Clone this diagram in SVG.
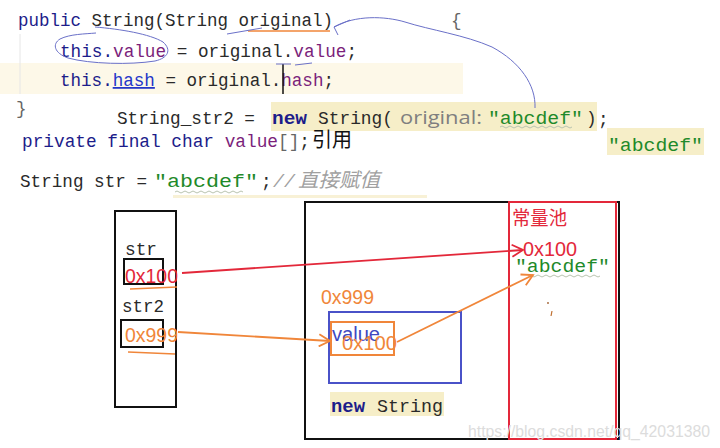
<svg xmlns="http://www.w3.org/2000/svg" width="720" height="448" viewBox="0 0 720 448">
<defs>
<style>
.code{font-family:"Liberation Mono","DejaVu Sans Mono",monospace;font-size:17.7px;fill:#2a2a2a}
.kw{fill:#1c1c8a}
.fld{fill:#7b1f7b}
.hash{fill:#2436c8;text-decoration:underline}
.str{fill:#1f8a2a}
.grey{fill:#666}
.hint{font-family:"Open Sans","Noto Sans",sans-serif;font-size:18px;fill:#7f7f7f}
.cmt{fill:#a0a0a0;font-style:italic}
.cjk{font-family:"Noto Sans CJK SC","Noto Sans",sans-serif}
.sans{font-family:"Liberation Sans","Noto Sans","Noto Sans CJK SC",sans-serif;font-size:19.5px}
.red{fill:#e3283a}
.org{fill:#f0863a}
.blu{fill:#4048c0}
.hl{fill:#f6eec8}
.box{fill:none;stroke:#111;stroke-width:2}
.wavy{fill:none;stroke:#b9c4b0;stroke-width:1}
.pen{fill:none;stroke:#6a70c8;stroke-width:1}
</style>
<marker id="hR" viewBox="0 0 14 14" refX="12" refY="7" markerWidth="14" markerHeight="14" markerUnits="userSpaceOnUse" orient="auto">
<path d="M1,1 L12,7 L1,13" fill="none" stroke="#e3283a" stroke-width="1.8"/>
</marker>
<marker id="hO" viewBox="0 0 14 14" refX="12" refY="7" markerWidth="14" markerHeight="14" markerUnits="userSpaceOnUse" orient="auto">
<path d="M1,1 L12,7 L1,13" fill="none" stroke="#f0863a" stroke-width="1.8"/>
</marker>
</defs>
<rect width="720" height="448" fill="#fff"/>

<g id="code">
<rect x="0" y="63" width="463" height="31" fill="#fdf8e8"/>
<line x1="20" y1="34" x2="20" y2="94" stroke="#e6e6e6" stroke-width="1"/>
<text class="code" x="18" y="26" font-size="17.5" textLength="315" lengthAdjust="spacingAndGlyphs"><tspan class="kw">public</tspan> String(String original)</text>
<text class="code grey" x="451" y="26">{</text>

<text class="code" x="60" y="57" textLength="297" lengthAdjust="spacingAndGlyphs"><tspan class="kw">this.</tspan><tspan class="fld">value</tspan> = original.<tspan class="fld">value</tspan>;</text>

<text class="code" x="60" y="86" font-size="17.5" textLength="274" lengthAdjust="spacingAndGlyphs"><tspan class="kw">this.</tspan><tspan class="hash">hash</tspan> = original.<tspan class="fld">hash</tspan>;</text>
<line x1="283" y1="64" x2="283" y2="94" stroke="#111" stroke-width="1.5"/>

<text class="code grey" x="16" y="114">}</text>
<rect class="hl" x="271" y="102" width="326" height="29"/>
<text class="code" x="117" y="124" textLength="138" lengthAdjust="spacingAndGlyphs">String_str2 =</text>
<text class="code kw" x="272" y="124" font-size="19" font-weight="bold" textLength="35" lengthAdjust="spacingAndGlyphs">new</text>
<text class="code" x="318" y="124" font-size="17.9" textLength="75" lengthAdjust="spacingAndGlyphs">String(</text>
<text class="hint" x="400" y="124" textLength="82" lengthAdjust="spacingAndGlyphs">original:</text>
<text class="code str" x="488" y="124" font-size="19.5" textLength="95" lengthAdjust="spacingAndGlyphs">"abcdef"</text>
<text class="code" x="586" y="124">)</text>
<text class="code" x="598" y="125">;</text>
<path class="wavy" d="M500,127 q2,-2 4,0 t4,0 t4,0 t4,0 t4,0 t4,0 t4,0 t4,0 t4,0 t4,0 t4,0 t4,0 t4,0 t4,0 t4,0 t4,0 t4,0 t4,0"/>

<text class="code" x="22" y="147" font-size="17.8" textLength="288" lengthAdjust="spacingAndGlyphs"><tspan class="kw">private final char</tspan> <tspan class="fld">value</tspan><tspan class="grey">[]</tspan>;</text>
<text class="cjk" x="312" y="147" font-size="20" fill="#111" textLength="40" lengthAdjust="spacingAndGlyphs">引用</text>
<rect class="hl" x="607" y="128" width="97" height="27"/>
<text class="code str" x="608" y="151" font-size="19.5" textLength="95" lengthAdjust="spacingAndGlyphs">"abcdef"</text>

<text class="code" x="20" y="187" font-size="17.6" textLength="127" lengthAdjust="spacingAndGlyphs">String str =</text>
<text class="code str" x="154" y="187" font-size="21" textLength="104" lengthAdjust="spacingAndGlyphs">"abcdef"</text>
<text class="code" x="261" y="187">;</text>
<text class="code cmt" x="273" y="187" textLength="22" lengthAdjust="spacingAndGlyphs">//</text>
<text class="cjk cmt" x="298" y="187" font-size="20" textLength="82" lengthAdjust="spacingAndGlyphs">直接赋值</text>
<path class="wavy" d="M175,192 q2,-2 4,0 t4,0 t4,0 t4,0 t4,0 t4,0 t4,0 t4,0 t4,0 t4,0 t4,0 t4,0 t4,0 t4,0 t4,0 t4,0 t4,0"/>
<rect x="173" y="195" width="254" height="3" fill="#f8f1d6"/>
</g>

<g id="annotations">
<path d="M248,31 L330,31" stroke="#f0863a" stroke-width="1.6" fill="none"/>
<path class="pen" d="M95,27 C120,29 150,34 163,42 C172,50 168,58 155,61 C130,65 90,64 68,58 C54,53 52,44 60,39 C70,34 85,34 96,33"/>
<path class="pen" d="M227,34 L262,28"/>
<path class="pen" d="M535,108 C536,85 520,62 492,47 C465,35 430,30 405,22 C385,16 355,15 334,27"/>
<path class="pen" d="M350,20 L334,27 L338,35"/>
<path class="pen" d="M276,64 L291,64 M295,65 L312,63"/>
</g>

<g id="stack">
<rect class="box" x="115" y="211" width="61" height="196"/>
<text class="code" x="125" y="255" font-size="19" fill="#222" textLength="32" lengthAdjust="spacingAndGlyphs">str</text>
<text class="code" x="122" y="312" font-size="19" fill="#222" textLength="42" lengthAdjust="spacingAndGlyphs">str2</text>
</g>

<g id="str-slot">
<rect class="box" x="124" y="259" width="39" height="25"/>
<text class="sans red" x="125" y="283" textLength="53" lengthAdjust="spacingAndGlyphs">0x100</text>
<path d="M130,289 L177,287" stroke="#f0863a" stroke-width="1.6" fill="none"/>
</g>

<g id="str2-slot">
<rect class="box" x="121" y="320" width="42" height="27"/>
<text class="sans org" x="125" y="342" textLength="53" lengthAdjust="spacingAndGlyphs">0x999</text>
<path d="M128,352 L175,354" stroke="#f0863a" stroke-width="1.6" fill="none"/>
</g>

<g id="heap">
<rect class="box" x="305" y="202" width="314" height="237"/>
</g>

<g id="pool">
<rect x="509" y="202" width="107" height="237" fill="none" stroke="#e3283a" stroke-width="2"/>
<text class="sans red cjk" x="512" y="225" font-size="18" textLength="55" lengthAdjust="spacingAndGlyphs">常量池</text>
<text class="sans red" x="523" y="256" textLength="54" lengthAdjust="spacingAndGlyphs">0x100</text>
<text class="code str" x="515" y="272" font-size="19.5" textLength="95" lengthAdjust="spacingAndGlyphs">"abcdef"</text>
<path class="wavy" d="M528,276 q2,-2 4,0 t4,0 t4,0 t4,0 t4,0 t4,0 t4,0 t4,0 t4,0 t4,0 t4,0 t4,0 t4,0 t4,0 t4,0 t4,0 t4,0 t4,0"/>
<circle cx="548" cy="303" r="0.9" fill="#a06030"/>
<path d="M552,311 L551,316" stroke="#c07030" stroke-width="1.2"/>
</g>

<g id="string-object">
<text class="sans org" x="321" y="304" textLength="53" lengthAdjust="spacingAndGlyphs">0x999</text>
<rect x="329" y="312" width="132" height="71" fill="none" stroke="#4a52c8" stroke-width="2"/>
<rect x="331" y="322" width="63" height="33" fill="none" stroke="#f0863a" stroke-width="2"/>
<text class="sans blu" x="332" y="341" textLength="48" lengthAdjust="spacingAndGlyphs">value</text>
<text class="sans org" x="342" y="350" textLength="55" lengthAdjust="spacingAndGlyphs">0x100</text>
<rect class="hl" x="330" y="392" width="114" height="24"/>
<text class="code kw" x="331" y="412" font-size="19" font-weight="bold" textLength="34" lengthAdjust="spacingAndGlyphs">new</text>
<text class="code" x="377" y="412" font-size="18.3" fill="#222" textLength="66" lengthAdjust="spacingAndGlyphs">String</text>
</g>

<g id="connectors">
<line x1="182" y1="273" x2="523" y2="250" stroke="#e3283a" stroke-width="1.8" marker-end="url(#hR)"/>
<line x1="178" y1="332" x2="330" y2="341" stroke="#f0863a" stroke-width="1.8" marker-end="url(#hO)"/>
<line x1="397" y1="342" x2="533" y2="275" stroke="#f0863a" stroke-width="1.8" marker-end="url(#hO)"/>
</g>

<text x="468" y="437" font-family="Liberation Sans,sans-serif" font-size="17" fill="#dcdcdc" textLength="242" lengthAdjust="spacingAndGlyphs">https://blog.csdn.net/qq_42031380</text>
</svg>
